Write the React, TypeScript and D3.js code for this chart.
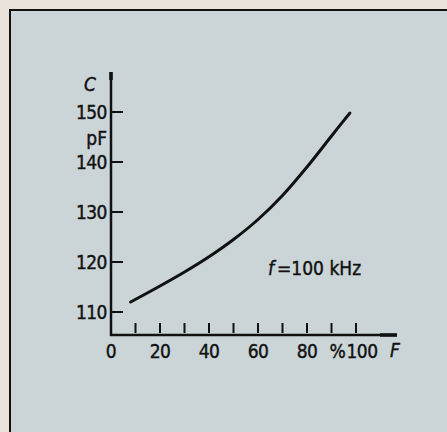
import React from 'react';
import * as d3 from 'd3';

// capacitance C (pF) vs. F (%), at f = 100 kHz
const fPercent = [8, 20, 30, 40, 50, 60, 70, 80, 90, 97.5];
const capacitance = [112.0, 115.2, 118.0, 121.05, 124.5, 128.5, 133.3, 139.0, 145.2, 149.8];

const yTicks = [110, 120, 130, 140, 150];
const xTicks = [10, 20, 30, 40, 50, 60, 70, 80, 90, 100];
const xTickLabels = ['0', '20', '40', '60', '80'];
const xTickLabelValues = [0, 20, 40, 60, 80];

const W = 447;
const H = 432;
const FONT = '"Liberation Sans Narrow", "DejaVu Sans Condensed", "Liberation Sans", sans-serif';

export default function App() {
  const x = d3.scaleLinear().domain([0, 100]).range([111, 356]);
  const y = d3.scaleLinear().domain([110, 150]).range([312, 112]);
  const axisY = 335;

  const line = d3.line<number>()
    .x((d, i) => x(fPercent[i]))
    .y((d) => y(d))
    .curve(d3.curveCatmullRom.alpha(0.5));

  // slightly heavier lettering, like the printed original
  const txt = { fill: '#111', stroke: '#111', strokeWidth: 0.4 };

  return (
    <svg width={W} height={H} style={{ position: 'fixed', left: 0, top: 0 }}
      fontFamily={FONT} fontSize={19}>
      <rect x={0} y={0} width={W} height={H} fill='#e9e3da' />
      <rect x={10} y={10} width={W} height={H} fill='#cbd5d7' stroke='#111' strokeWidth={2} />

      {/* y axis */}
      <line x1={x(0)} x2={x(0)} y1={72} y2={axisY + 1} stroke='#111' strokeWidth={2.5} />
      <line x1={x(0)} x2={x(0)} y1={72} y2={80} stroke='#111' strokeWidth={3.5} />
      {yTicks.map((t) => (
        <g key={t}>
          <line x1={x(0)} x2={x(0) + 12} y1={y(t)} y2={y(t)} stroke='#111' strokeWidth={2} />
          <text x={x(0) - 4} y={y(t)} textAnchor='end' dominantBaseline='central' {...txt}
            letterSpacing={-0.5}>{t}</text>
        </g>
      ))}
      <text x={x(0) - 4} y={y(145) + 1} textAnchor='end' dominantBaseline='central' {...txt}>pF</text>
      <text x={90} y={84} textAnchor='middle' dominantBaseline='central' {...txt} fontStyle='italic'>C</text>

      {/* x axis */}
      <line x1={x(0) - 1} x2={397} y1={axisY} y2={axisY} stroke='#111' strokeWidth={2.5} />
      <line x1={380} x2={397} y1={axisY} y2={axisY} stroke='#111' strokeWidth={3.5} />
      {xTicks.map((t) => (
        <line key={t} x1={x(t)} x2={x(t)} y1={323} y2={333} stroke='#111' strokeWidth={2} />
      ))}
      {xTickLabels.map((l, i) => (
        <text key={l} x={x(xTickLabelValues[i])} y={351} textAnchor='middle' dominantBaseline='central'
          {...txt} letterSpacing={-0.5}>{l}</text>
      ))}
      <text x={x(90) + 6} y={351} textAnchor='middle' dominantBaseline='central' {...txt}>%</text>
      <text x={x(100) + 6} y={351} textAnchor='middle' dominantBaseline='central' {...txt}
        letterSpacing={-0.5}>100</text>
      <text x={395} y={350} textAnchor='middle' dominantBaseline='central' {...txt} fontStyle='italic'>F</text>

      {/* curve */}
      <path d={line(capacitance) || ''} fill='none' stroke='#111' strokeWidth={3} strokeLinecap='round' />

      <text x={268} y={268} dominantBaseline='central' {...txt}>
        <tspan fontStyle='italic'>f</tspan>
        <tspan dx={3}>=100 kHz</tspan>
      </text>
    </svg>
  );
}
